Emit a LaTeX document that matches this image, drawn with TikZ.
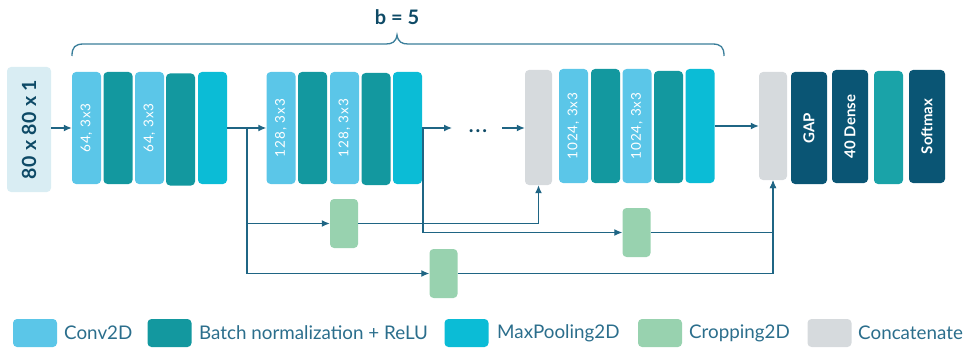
\documentclass[tikz,border=0pt]{standalone}
\usepackage{fontspec}
\setmainfont{Lato}
\usetikzlibrary{arrows.meta}
\definecolor{convc}{HTML}{5BC6E8}
\definecolor{bnc}{HTML}{13989F}
\definecolor{poolc}{HTML}{0BBCD6}
\definecolor{cropc}{HTML}{98D2AF}
\definecolor{catc}{HTML}{D6DADD}
\definecolor{navyc}{HTML}{0A5574}
\definecolor{headteal}{HTML}{1AA3A8}
\definecolor{inc}{HTML}{D9EDF3}
\definecolor{linec}{HTML}{1F6584}
\definecolor{bracec}{HTML}{3A7E9A}
\definecolor{legtext}{HTML}{2B6E8C}
\definecolor{boldtext}{HTML}{0E4A66}
\begin{document}
\begin{tikzpicture}[x=1pt,y=-1pt,
  blk/.style={rounded corners=4pt, draw=none, inner sep=0pt, minimum width=29pt, minimum height=112pt},
  lbl/.style={text=white, font=\fontsize{13.5}{13.5}\selectfont\addfontfeatures{LetterSpace=7}},
  hlbl/.style={text=white, font=\bfseries\fontsize{15}{15}\selectfont},
  leg/.style={rounded corners=4pt, inner sep=0pt, minimum width=44pt, minimum height=28pt},
  legt/.style={anchor=west, text=legtext, inner sep=0pt, font=\fontsize{18.8}{18.8}\selectfont},
  conn/.style={draw=linec, line width=1.3pt},
  arr/.style={conn, -{Latex[length=8pt,width=7pt,fill=linec]}}
]
\useasboundingbox (0,0) rectangle (969,350);

% input
\node[blk, fill=inc, minimum width=44pt, minimum height=125pt] (in) at (29,129.5) {};
\node[rotate=90, text=boldtext, font=\bfseries\fontsize{19.5}{19.5}\selectfont\addfontfeatures{LetterSpace=3}] (intxt) at (in.center) {80 x 80 x 1};

% block 1
\node[blk, fill=convc] (a1) at (86.5,128) {};
\node[blk, fill=bnc] (a2) at (118,128) {};
\node[blk, fill=convc] (a3) at (149.5,128) {};
\node[blk, fill=bnc] (a4) at (180.5,129.5) {};
\node[blk, fill=poolc] (a5) at (212.5,128) {};
\node[lbl, rotate=90] (a1t) at (a1.center) {64, 3x3};
\node[lbl, rotate=90] (a3t) at (a3.center) {64, 3x3};

% block 2
\node[blk, fill=convc] (b1) at (281,128) {};
\node[blk, fill=bnc] (b2) at (312.5,128) {};
\node[blk, fill=convc] (b3) at (344.5,128) {};
\node[blk, fill=bnc] (b4) at (376,129) {};
\node[blk, fill=poolc] (b5) at (407.5,128) {};
\node[lbl, rotate=90] (b1t) at (b1.center) {128, 3x3};
\node[lbl, rotate=90] (b3t) at (b3.center) {128, 3x3};

% concat 1 and block 5
\node[blk, fill=catc, minimum width=27pt, minimum height=115pt] (cat1) at (538.5,127.5) {};
\node[blk, fill=convc, minimum height=114pt] (e1) at (573.5,126) {};
\node[blk, fill=bnc, minimum height=114pt] (e2) at (605.5,126) {};
\node[blk, fill=convc, minimum height=114pt] (e3) at (637,126) {};
\node[blk, fill=bnc, minimum height=112pt] (e4) at (668.5,127) {};
\node[blk, fill=poolc, minimum height=114pt] (e5) at (700,126) {};
\node[lbl, rotate=90] (e1t) at (e1.center) {1024, 3x3};
\node[lbl, rotate=90] (e3t) at (e3.center) {1024, 3x3};

% head
\node[blk, fill=catc, minimum width=28pt, minimum height=108pt] (cat2) at (773,126) {};
\node[blk, fill=navyc, minimum width=36pt] (gap) at (809,128) {};
\node[blk, fill=navyc, minimum width=36pt, minimum height=113pt] (dense) at (850,126.5) {};
\node[blk, fill=headteal, minimum height=113pt] (hbn) at (888.5,127.5) {};
\node[blk, fill=navyc, minimum width=36pt, minimum height=113pt] (soft) at (927,126.5) {};
\node[hlbl, rotate=90] (gapt) at (gap.center) {GAP};
\node[hlbl, rotate=90] (denset) at (dense.center) {40 Dense};
\node[hlbl, rotate=90] (softt) at (soft.center) {Softmax};

% croppings
\node[blk, fill=cropc, minimum width=28pt, minimum height=49pt] (cr1) at (344,223.5) {};
\node[blk, fill=cropc, minimum width=28pt, minimum height=49pt] (cr2) at (443.5,273.5) {};
\node[blk, fill=cropc, minimum width=28pt, minimum height=49pt] (cr3) at (636.5,232.5) {};

% helper coordinates
\coordinate (j1) at (247,128);
\coordinate (j2) at (423,128);
\coordinate (d1) at (452,128);
\coordinate (d2) at (502,128);
\node[anchor=base, text=boldtext, inner sep=0pt, font=\bfseries\fontsize{20}{20}\selectfont\addfontfeatures{LetterSpace=10}] (dots) at (478,132) {...};

% connectors
\draw[arr] (in.east |- 0,128) -- (a1.west |- 0,128);
\draw[arr] (a5.east |- 0,128) -- (b1.west |- 0,128);
\draw[conn] (j1) -- (j1 |- cr2.west);
\draw[arr] (j1) |- (cr1.west);
\draw[arr] (j1) |- (cr2.west);
\draw[arr] (cr1.east) -| (cat1.south);
\draw[arr] (b5.east |- 0,128) -- (d1);
\draw[arr] (d2) -- (cat1.west |- d2);
\draw[arr] (j2) |- (cr3.west);
\draw[arr] (cr3.east) -| (cat2.south);
\draw[arr] (cr2.east) -| (cat2.south);
\draw[arr] (e5.east |- 0,126) -- (cat2.west |- 0,126);

% brace
\coordinate (brL) at (72,56);
\coordinate (brR) at (724,56);
\coordinate (brT) at (397,35);
\draw[draw=bracec, line width=1.3pt] (brL) .. controls (72,47) and (75,44) .. (84,44) -- (386,44)
  .. controls (392,44) and (396,42) .. (brT) .. controls (398,42) and (402,44) .. (408,44)
  -- (712,44) .. controls (721,44) and (724,47) .. (brR);
\node[text=boldtext, font=\bfseries\fontsize{20}{20}\selectfont] (b5lbl) at (397,17) {b = 5};

% legend
\node[leg, fill=convc] (l1) at (35,333) {};
\node[legt] (l1t) at (64,333) {Conv2D};
\node[leg, fill=bnc] (l2) at (169.5,333) {};
\node[legt] (l2t) at (199,333) {Batch normalization + ReLU};
\node[leg, fill=poolc] (l3) at (466.5,333) {};
\node[legt] (l3t) at (497,333) {MaxPooling2D};
\node[leg, fill=cropc] (l4) at (660,333) {};
\node[legt] (l4t) at (689,333) {Cropping2D};
\node[leg, fill=catc] (l5) at (829.5,333) {};
\node[legt] (l5t) at (858,333) {Concatenate};
\end{tikzpicture}
\end{document}
